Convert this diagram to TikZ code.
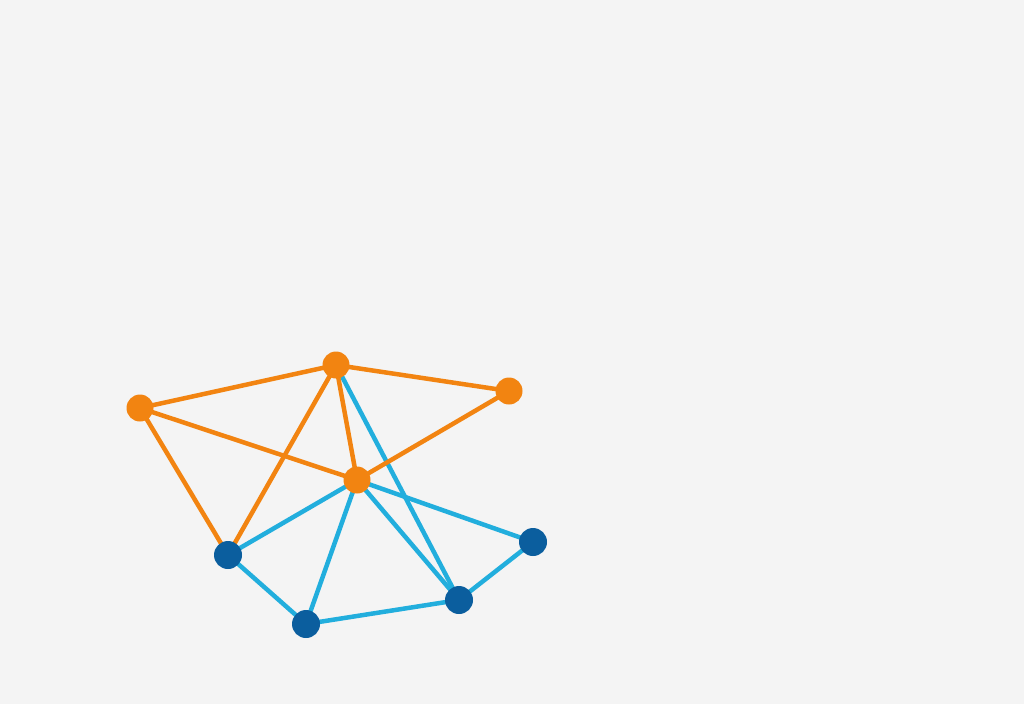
\documentclass[tikz,border=0pt]{standalone}
\definecolor{bg}{HTML}{F4F4F4}
\definecolor{orng}{HTML}{F28411}
\definecolor{dblue}{HTML}{0B5E9E}
\definecolor{lblue}{HTML}{22AEDD}
\begin{document}
\begin{tikzpicture}[x=1pt,y=-1pt,
  onode/.style={circle,fill=orng,minimum size=27pt,inner sep=0pt},
  bnode/.style={circle,fill=dblue,minimum size=28pt,inner sep=0pt},
  oedge/.style={draw=orng,line width=4.5pt},
  bedge/.style={draw=lblue,line width=4.5pt}]
\fill[bg] (0,0) rectangle (1024,704);
\useasboundingbox (0,0) rectangle (1024,704);
\coordinate (pA) at (140,408);
\coordinate (pB) at (336,365);
\coordinate (pC) at (509,391);
\coordinate (pD) at (357,480);
\coordinate (pE) at (228,555);
\coordinate (pF) at (306,624);
\coordinate (pG) at (459,600);
\coordinate (pH) at (533,542);
\path[bedge] (pB) -- (pG);
\path[bedge] (pD) -- (pE);
\path[bedge] (pD) -- (pF);
\path[bedge] (pD) -- (pG);
\path[bedge] (pD) -- (pH);
\path[bedge] (pE) -- (pF);
\path[bedge] (pF) -- (pG);
\path[bedge] (pG) -- (pH);
\path[oedge] (pA) -- (pB);
\path[oedge] (pB) -- (pC);
\path[oedge] (pA) -- (pD);
\path[oedge] (pA) -- (pE);
\path[oedge] (pB) -- (pE);
\path[oedge] (pB) -- (pD);
\path[oedge] (pC) -- (pD);
\node[onode] (A) at (pA) {};
\node[onode] (B) at (pB) {};
\node[onode] (C) at (pC) {};
\node[onode] (D) at (pD) {};
\node[bnode] (E) at (pE) {};
\node[bnode] (F) at (pF) {};
\node[bnode] (G) at (pG) {};
\node[bnode] (H) at (pH) {};
\end{tikzpicture}
\end{document}
